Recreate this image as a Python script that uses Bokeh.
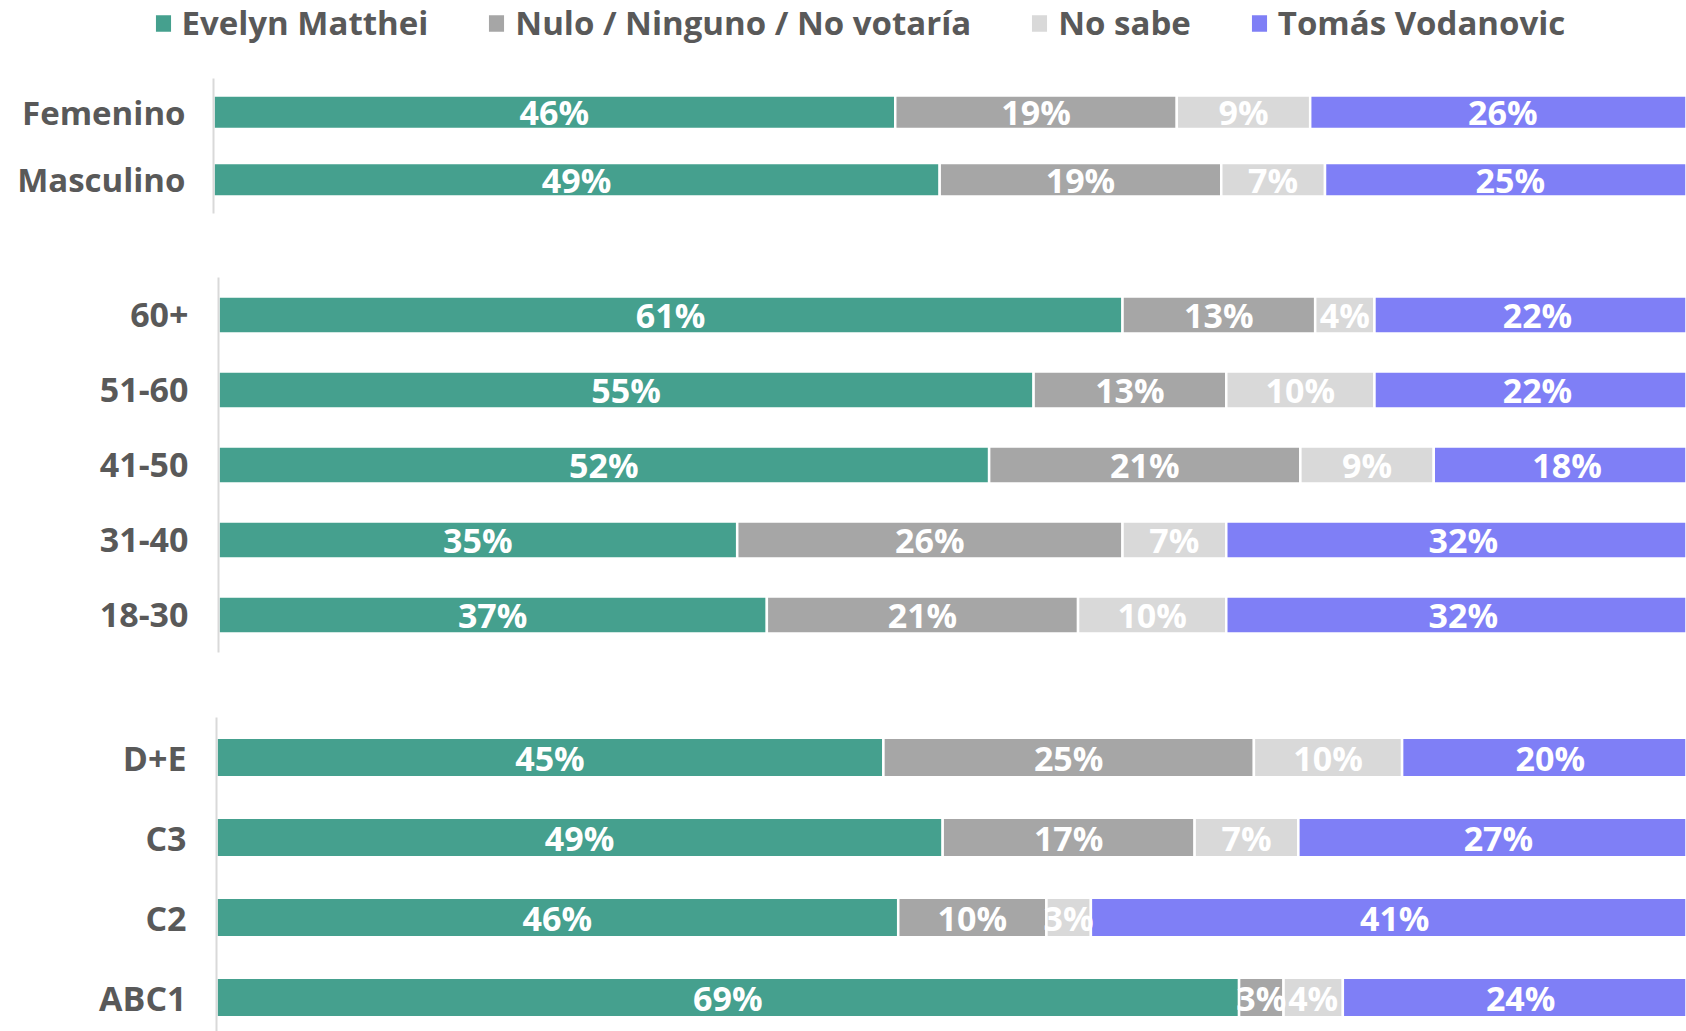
from bokeh.plotting import figure
from bokeh.models import ColumnDataSource, Range1d, FixedTicker, Legend, LegendItem
from bokeh.layouts import column
from bokeh.embed import file_html
from bokeh.resources import INLINE
from bokeh.core.properties import value

# ---------------- data ----------------
series_names = ["Evelyn Matthei", "Nulo / Ninguno / No votaría", "No sabe", "Tomás Vodanovic"]
series_keys = ["matthei", "nulo", "nosabe", "vodanovic"]
series_colors = ["#45A08E", "#A6A6A6", "#D9D9D9", "#7F7FF6"]

gender_cats = ["Femenino", "Masculino"]
gender_matthei = [46, 49]
gender_nulo = [19, 19]
gender_nosabe = [9, 7]
gender_vodanovic = [26, 25]

age_cats = ["60+", "51-60", "41-50", "31-40", "18-30"]
age_matthei = [61, 55, 52, 35, 37]
age_nulo = [13, 13, 21, 26, 21]
age_nosabe = [4, 10, 9, 7, 10]
age_vodanovic = [22, 22, 18, 32, 32]

gse_cats = ["D+E", "C3", "C2", "ABC1"]
gse_matthei = [45, 49, 46, 69]
gse_nulo = [25, 17, 10, 3]
gse_nosabe = [10, 7, 3, 4]
gse_vodanovic = [20, 27, 41, 24]

# ---------------- style ----------------
FONT = "Open Sans"
TXT = "#595959"
PAGE_W = 1686
PX_PER_PCT = 14.82
BAR_H = 0.495
LEGEND_H = 60


def make_source(cats, cols):
    n = len(cats)
    data = dict(y=list(range(n)))
    cum = [0] * n
    for k, c in zip(series_keys, cols):
        data[k] = c
        data[k + "_c"] = [cum[i] + c[i] / 2 for i in range(n)]
        data[k + "_t"] = [f"{v}%" for v in c]
        cum = [cum[i] + c[i] for i in range(n)]
    return ColumnDataSource(data)


def make_panel(cats, src, frame_left, top, frame_h, bottom, spacing, label_px="34px", standoff=30):
    ys = list(range(len(cats)))
    x_end = (PAGE_W - frame_left) / PX_PER_PCT
    y_bottom = -0.5 + frame_h / spacing
    p = figure(width=PAGE_W, height=top + frame_h + bottom,
               x_range=Range1d(0, x_end), y_range=Range1d(y_bottom, -0.5),
               x_axis_location=None, output_backend="svg", toolbar_location=None,
               min_border_left=frame_left, min_border_right=0,
               min_border_top=top, min_border_bottom=bottom, frame_align=False)
    p.outline_line_color = None
    p.xgrid.visible = False
    p.ygrid.visible = False

    p.hbar_stack(series_keys, y="y", height=BAR_H, color=series_colors,
                 line_color="white", line_width=2.5, source=src)
    for k in series_keys:
        p.text(x=k + "_c", y="y", text=k + "_t", source=src,
               text_font=value(FONT), text_font_style="bold", text_font_size="34px",
               text_color="white", text_align="center", text_baseline="middle")

    ax = p.yaxis[0]
    ax.ticker = FixedTicker(ticks=ys)
    ax.major_label_overrides = {i: c for i, c in enumerate(cats)}
    ax.axis_line_color = "#D9D9D9"
    ax.axis_line_width = 2
    ax.major_tick_line_color = None
    ax.minor_tick_line_color = None
    ax.major_tick_out = 0
    ax.major_tick_in = 0
    ax.major_label_standoff = standoff
    ax.major_label_text_font = FONT
    ax.major_label_text_font_style = "bold"
    ax.major_label_text_font_size = label_px
    ax.major_label_text_color = TXT
    return p


gender_src = make_source(gender_cats, [gender_matthei, gender_nulo, gender_nosabe, gender_vodanovic])
age_src = make_source(age_cats, [age_matthei, age_nulo, age_nosabe, age_vodanovic])
gse_src = make_source(gse_cats, [gse_matthei, gse_nulo, gse_nosabe, gse_vodanovic])

# ---------------- legend strip (its bars lie outside its visible range) ----------------
p0 = figure(width=PAGE_W, height=LEGEND_H, x_range=Range1d(0, 100), y_range=Range1d(10, 11),
            x_axis_location=None, y_axis_location=None, output_backend="svg",
            toolbar_location=None, min_border=0, frame_align=False)
p0.outline_line_color = None
p0.xgrid.visible = False
p0.ygrid.visible = False
legend_renderers = p0.hbar_stack(series_keys, y="y", height=BAR_H, color=series_colors,
                                 line_color="white", line_width=2.5, source=gender_src)
lg = Legend(items=[LegendItem(label=nm, renderers=[r]) for nm, r in zip(series_names, legend_renderers)],
            orientation="horizontal", location=(151.5, 15), padding=0, margin=0,
            spacing=57, glyph_width=22, glyph_height=24, label_standoff=8,
            border_line_color=None, background_fill_alpha=0,
            label_text_font=FONT, label_text_font_style="bold",
            label_text_font_size="33px", label_text_color=TXT)
p0.add_layout(lg, "center")

p1 = make_panel(gender_cats, gender_src, 213, 78 - LEGEND_H, 135, 27, 67.5, label_px="33px", standoff=28)
p2 = make_panel(age_cats, age_src, 218, 37, 375, 33, 75)
p3 = make_panel(gse_cats, gse_src, 216, 32, 314, 0, 80)

layout = column(p0, p1, p2, p3, spacing=0)
open("out.html", "w").write(file_html(layout, INLINE))
